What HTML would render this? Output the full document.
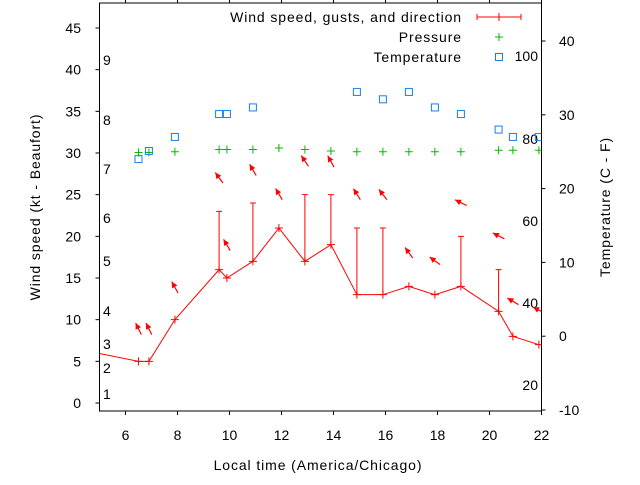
<!DOCTYPE html>
<html><head><meta charset="utf-8"><style>
body{margin:0;background:#fff}
svg text{font-family:"Liberation Sans",sans-serif;font-size:14px;fill:#000}
svg text.w{letter-spacing:0.9px}
</style></head><body>
<svg id="chart" width="640" height="480" viewBox="0 0 640 480" xmlns="http://www.w3.org/2000/svg"></svg>
<script>
const times=[6.5,6.9,7.9,9.6,9.9,10.9,11.9,12.9,13.9,14.9,15.9,16.9,17.9,18.9,20.35,20.9,21.9];
const windSpeed=[5,5,10,16,15,17,21,17,19,13,13,14,13,14,11,8,7];
const windGust=[null,null,null,23,null,24,null,25,25,21,21,null,null,20,16,null,null];
const arrowY=[8.2,8.2,13.2,26.4,18.3,27.3,24.4,28.4,28.3,24.4,24.4,17.4,16.6,23.7,19.7,11.8,10.8];
const arrowDir=[334,334,331,324,329,330,329,326,331,328,322,324,306,296,297,301,296];
const pressure=[24.9,24.9,25,25.3,25.3,25.3,25.5,25.3,25.1,25,25,25,25,25,25.2,25.2,25.2];
const tempTimes=[6.5,6.9,7.9,9.6,9.9,10.9,14.9,15.9,16.9,17.9,18.9,20.35,20.9,21.9];
const temperature=[24,25.1,27,30.1,30.1,31,33.1,32.1,33.1,31,30.1,28,27,27];
const xTicks=[6,8,10,12,14,16,18,20,22];
const yTicks=[0,5,10,15,20,25,30,35,40,45];
const y2Ticks=[-10,0,10,20,30,40];
const beaufort=[[1,394],[2,368],[3,344],[4,311],[5,261],[6,218],[7,169],[8,120],[9,60]];
const fahr=[[20,385],[40,303],[60,221],[80,139],[100,56]];

const L=99.5,R=541.5,T=3,B=411;
const X=t=>L+(t-5)/(22-5)*(R-L);
const Y=v=>403-v*8.333;
const Y2=v=>410-(v+10)*7.38;
const svg=document.getElementById('chart');
const NS='http://www.w3.org/2000/svg';
function el(tag,attrs,parent){const e=document.createElementNS(NS,tag);for(const k in attrs)e.setAttribute(k,attrs[k]);(parent||svg).appendChild(e);return e;}
function txt(s,x,y,anchor,parent,cls){const e=el('text',{x:x,y:y,'text-anchor':anchor||'start','dominant-baseline':'central'},parent);if(cls)e.setAttribute('class',cls);e.textContent=s;return e;}

const defs=el('defs',{});
const cp=el('clipPath',{id:'clip'},defs);el('rect',{x:L,y:T,width:R-L,height:B-T},cp);

const axes=el('g',{});


el('rect',{x:L,y:T,width:R-L,height:B-T,fill:'none',stroke:'#000','stroke-width':1},axes);
xTicks.forEach(t=>{
  el('line',{x1:X(t),x2:X(t),y1:B,y2:B+4,stroke:'#000'},axes);
  el('line',{x1:X(t),x2:X(t),y1:T,y2:T-4,stroke:'#000'},axes);
  const e=txt(String(t),X(t),435,'middle',axes);
  
  
});
yTicks.forEach(v=>{
  el('line',{x1:L-4,x2:L,y1:Y(v),y2:Y(v),stroke:'#000'},axes);
  const e=txt(String(v),81,Y(v),'end',axes);
  
  
});
y2Ticks.forEach(v=>{
  el('line',{x1:R,x2:R+4,y1:Y2(v),y2:Y2(v),stroke:'#000'},axes);
  const e=txt(String(v),559,Y2(v),'start',axes);
  
  
});
beaufort.forEach(b=>{const e=txt(String(b[0]),103,b[1],'start',axes);
  
  });
fahr.forEach(f=>{const e=txt(String(f[0]),538,f[1],'end',axes);
  
  });
let t1=txt('Local time (America/Chicago)',318,465,'middle',null,'w');

let t2=txt('Wind speed (kt - Beaufort)',0,0,'middle',null,'w');t2.setAttribute('transform','translate(35,207) rotate(-90)');

let t3=txt('Temperature (C - F)',0,0,'middle',null,'w');t3.setAttribute('transform','translate(605,207) rotate(-90)');


const plot=el('g',{'clip-path':'url(#clip)'});
let pts=[[4.9,6]].concat(times.map((t,i)=>[t,windSpeed[i]]));
const wl=el('polyline',{points:pts.map(p=>X(p[0])+','+Y(p[1])).join(' '),fill:'none',stroke:'#f00','stroke-width':1},plot);


times.forEach((t,i)=>{
  const x=X(t),y=Y(windSpeed[i]);
  const m=el('path',{d:`M${x-4},${y}H${x+4}M${x},${y-4}V${y+4}`,stroke:'#f00','stroke-width':1},plot);
  
  
  if(windGust[i]!=null){
    const g=el('path',{d:`M${x},${y}V${Y(windGust[i])}M${x-3},${Y(windGust[i])}H${x+3}`,stroke:'#f00','stroke-width':1},plot);
    
    
  }
  const a=arrowDir[i]*Math.PI/180,len=13,dx=Math.sin(a)*len,dy=-Math.cos(a)*len;
  const tx=x-dx/2,ty=Y(arrowY[i]);const hx=tx+dx,hy=ty+dy;
  const ag=el('g',{},plot);
  
  
  el('line',{x1:tx,y1:ty,x2:hx,y2:hy,stroke:'#f00','stroke-width':1.2},ag);
  const ux=dx/len,uy=dy/len,px=-uy,py=ux;
  el('polygon',{points:`${hx},${hy} ${hx-ux*6+px*3},${hy-uy*6+py*3} ${hx-ux*6-px*3},${hy-uy*6-py*3}`,fill:'#f00'},ag);
});
times.forEach((t,i)=>{
  const x=X(t),y=Y2(pressure[i]);
  const m=el('path',{d:`M${x-4},${y}H${x+4}M${x},${y-4}V${y+4}`,stroke:'#0b0','stroke-width':1},plot);
  
  
});
tempTimes.forEach((t,i)=>{
  const r=el('rect',{x:X(t)-3.5,y:Y2(temperature[i])-3.5,width:7,height:7,fill:'none',stroke:'#1a7fe8','stroke-width':1},plot);
  
  
});

const lg=el('g',{});


txt('Wind speed, gusts, and direction',462,17,'end',lg,'w');
el('path',{d:'M477,17H521M477,14V20M521,14V20M499,13V21',stroke:'#f00','stroke-width':1},lg);
txt('Pressure',462,37,'end',lg,'w');
el('path',{d:'M495,37H503M499,33V41',stroke:'#0b0','stroke-width':1},lg);
txt('Temperature',462,57,'end',lg,'w');
el('rect',{x:495.5,y:53.5,width:7,height:7,fill:'none',stroke:'#1a7fe8'},lg);
</script>
</body></html>
